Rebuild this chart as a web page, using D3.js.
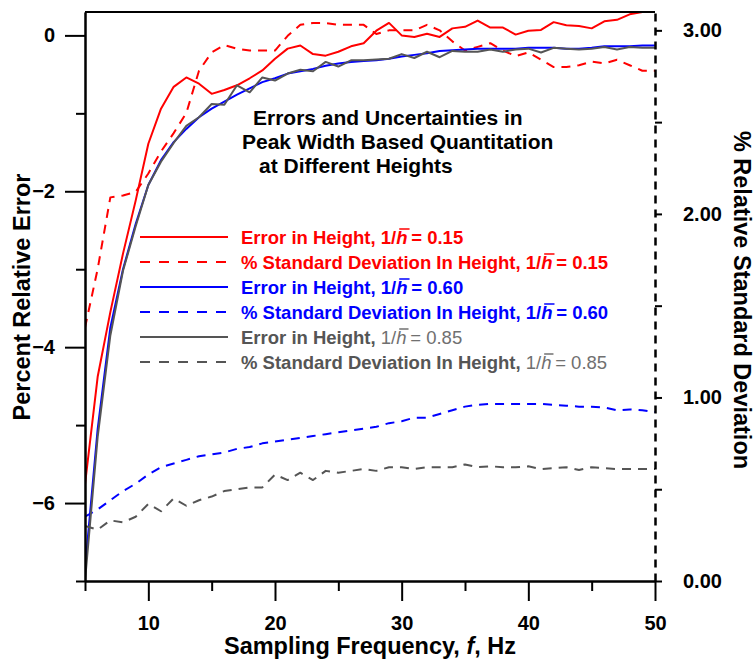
<!DOCTYPE html>
<html>
<head>
<meta charset="utf-8">
<script src="https://cdn.jsdelivr.net/npm/d3@7"></script>
<style>
	body { margin: 0; background: #fff; }
	#chart { width: 755px; height: 660px; }
	text { font-family: "Liberation Sans", Arial, sans-serif; font-weight: bold; }
</style>
</head>
<body>
<div id="chart"></div>
<script>
// sampling frequency, Hz
var freq = [5, 6, 7, 8, 9, 10, 11, 12, 13, 14, 15, 16, 17, 18, 19, 20, 21, 22, 23, 24, 25, 26, 27,
	28, 29, 30, 31, 32, 33, 34, 35, 36, 37, 38, 39, 40, 41, 42, 43, 44, 45, 46, 47, 48, 49, 50];

// percent relative error (left axis)
var errH015 = [-5.76, -4.38, -3.55, -2.80, -2.12, -1.39, -0.94, -0.66, -0.54, -0.62, -0.75, -0.70, -0.64,
	-0.55, -0.45, -0.30, -0.17, -0.13, -0.24, -0.26, -0.21, -0.14, -0.10, 0.06, 0.16, 0.00, -0.02, 0.02,
	-0.02, 0.09, 0.11, 0.19, 0.10, 0.10, 0.01, 0.06, 0.07, 0.17, 0.13, 0.12, 0.09, 0.18, 0.20, 0.27, 0.30, 0.30];
var errH060 = [-6.85, -5.05, -3.75, -3.00, -2.42, -1.92, -1.60, -1.37, -1.20, -1.05, -0.94, -0.85, -0.76,
	-0.68, -0.60, -0.55, -0.49, -0.46, -0.43, -0.39, -0.36, -0.34, -0.33, -0.32, -0.30, -0.27, -0.25, -0.23,
	-0.20, -0.19, -0.18, -0.17, -0.17, -0.17, -0.17, -0.16, -0.16, -0.16, -0.17, -0.17, -0.16, -0.14, -0.14,
	-0.14, -0.13, -0.13];
var errH085 = [-7.00, -5.15, -3.85, -3.02, -2.45, -1.92, -1.62, -1.38, -1.16, -1.05, -0.88, -0.89, -0.64,
	-0.73, -0.54, -0.58, -0.49, -0.44, -0.46, -0.34, -0.40, -0.32, -0.32, -0.31, -0.30, -0.24, -0.29, -0.21,
	-0.28, -0.20, -0.21, -0.21, -0.18, -0.21, -0.18, -0.17, -0.22, -0.16, -0.17, -0.18, -0.17, -0.15, -0.18,
	-0.15, -0.16, -0.16];

// percent relative standard deviation (right axis)
var sdH015 = [1.38, 1.70, 2.09, 2.10, 2.12, 2.22, 2.34, 2.44, 2.55, 2.78, 2.88, 2.92, 2.90, 2.89, 2.89,
	2.89, 2.97, 3.03, 3.04, 3.04, 3.03, 3.03, 3.03, 2.98, 3.00, 3.00, 3.00, 3.03, 3.00, 2.94, 2.89, 2.91,
	2.93, 2.89, 2.86, 2.88, 2.84, 2.80, 2.80, 2.81, 2.83, 2.82, 2.84, 2.81, 2.78, 2.78];
var sdH060 = [0.35, 0.39, 0.44, 0.49, 0.53, 0.58, 0.62, 0.64, 0.66, 0.68, 0.69, 0.70, 0.72, 0.73, 0.75,
	0.76, 0.77, 0.78, 0.79, 0.80, 0.81, 0.82, 0.83, 0.84, 0.86, 0.87, 0.89, 0.89, 0.91, 0.93, 0.95, 0.96,
	0.965, 0.965, 0.965, 0.965, 0.965, 0.96, 0.955, 0.95, 0.95, 0.945, 0.93, 0.935, 0.93, 0.92];
var sdH085 = [0.30, 0.28, 0.33, 0.32, 0.35, 0.42, 0.38, 0.45, 0.41, 0.44, 0.46, 0.49, 0.50, 0.51, 0.51,
	0.58, 0.55, 0.59, 0.55, 0.60, 0.59, 0.60, 0.61, 0.60, 0.62, 0.62, 0.61, 0.62, 0.62, 0.62, 0.635, 0.62,
	0.625, 0.62, 0.62, 0.625, 0.61, 0.615, 0.62, 0.605, 0.62, 0.615, 0.61, 0.61, 0.61, 0.61];

var xMajor = [10, 20, 30, 40, 50];
var xMinor = [5, 15, 25, 35, 45];
var yMajor = [-6, -4, -2, 0];
var yMinor = [-7, -5, -3, -1];
var rTicks = [0, 0.5, 1, 1.5, 2, 2.5, 3];

var titleLines = ["Errors and Uncertainties in", "Peak Width Based Quantitation", "at Different Heights"];

var series = [
	{ label: "Error in Height, ", hval: "0.15", values: errH015, axis: "left", color: "#ff0000", dash: null },
	{ label: "% Standard Deviation In Height, ", hval: "0.15", values: sdH015, axis: "right", color: "#ff0000", dash: true },
	{ label: "Error in Height, ", hval: "0.60", values: errH060, axis: "left", color: "#0000ff", dash: null },
	{ label: "% Standard Deviation In Height, ", hval: "0.60", values: sdH060, axis: "right", color: "#0000ff", dash: true },
	{ label: "Error in Height, ", hval: "0.85", values: errH085, axis: "left", color: "#555555", dash: null, light: true },
	{ label: "% Standard Deviation In Height, ", hval: "0.85", values: sdH085, axis: "right", color: "#555555", dash: true, light: true }
];

var width = 755, height = 660;
var margin = { left: 85, right: 100, top: 12, bottom: 79 };

var svg = d3.select("#chart")
	.append("svg")
	.attr("width", width)
	.attr("height", height);

var x = d3.scaleLinear().domain([5, 50]).range([margin.left, width - margin.right]);
var yL = d3.scaleLinear().domain([-7, 0.3]).range([height - margin.bottom, margin.top]);
var yR = d3.scaleLinear().domain([0, 3.1]).range([height - margin.bottom, margin.top]);

svg.append("clipPath").attr("id", "plotclip")
	.append("rect")
	.attr("x", margin.left).attr("y", margin.top)
	.attr("width", x(50) - x(5)).attr("height", yL(-7) - yL(0.3));

// data lines
var lines = svg.append("g").attr("clip-path", "url(#plotclip)");
series.forEach(function(s) {
	var yScale = s.axis == "left" ? yL : yR;
	var line = d3.line()
		.x(function(d, i) { return x(freq[i]); })
		.y(function(d) { return yScale(d); });
	lines.append("path")
		.datum(s.values)
		.attr("fill", "none")
		.attr("stroke", s.color)
		.attr("stroke-width", 2)
		.attr("stroke-linejoin", "round")
		.attr("stroke-dasharray", s.dash ? "9,7" : null)
		.attr("d", line);
});

// top frame
svg.append("line")
	.attr("x1", x(5)).attr("x2", x(50))
	.attr("y1", yL(0.3)).attr("y2", yL(0.3))
	.attr("stroke", "black").attr("stroke-width", 2);

function styleAxis(g) {
	g.selectAll("path, line").attr("stroke", "black").attr("stroke-width", 2);
	g.selectAll("text").attr("fill", "black").style("font-size", "20px").style("font-weight", "bold");
}

// x axis
svg.append("g")
	.attr("transform", "translate(0," + yL(-7) + ")")
	.call(d3.axisBottom(x).tickValues(xMinor).tickSize(10).tickSizeOuter(0).tickFormat(""))
	.call(styleAxis);
svg.append("g")
	.attr("transform", "translate(0," + yL(-7) + ")")
	.call(d3.axisBottom(x).tickValues(xMajor).tickSize(20).tickSizeOuter(0).tickPadding(15))
	.call(styleAxis);

// left axis
svg.append("g")
	.attr("transform", "translate(" + x(5) + ",0)")
	.call(d3.axisLeft(yL).tickValues(yMinor).tickSize(9).tickSizeOuter(0).tickFormat(""))
	.call(styleAxis);
svg.append("g")
	.attr("transform", "translate(" + x(5) + ",0)")
	.call(d3.axisLeft(yL).tickValues(yMajor).tickSize(20).tickSizeOuter(0).tickPadding(10))
	.call(styleAxis);

// right axis, dashed
var rAxis = svg.append("g")
	.attr("transform", "translate(" + x(50) + ",0)")
	.call(d3.axisRight(yR).tickValues(rTicks).tickSize(7).tickSizeOuter(0).tickPadding(21)
		.tickFormat(function(d) { return d % 1 == 0 ? d3.format(".2f")(d) : ""; }))
	.call(styleAxis);
rAxis.select(".domain")
	.attr("stroke-width", 2.5)
	.attr("stroke-dasharray", "8,6");

// axis titles
svg.append("text")
	.attr("transform", "translate(22,297) rotate(-90)")
	.attr("text-anchor", "middle")
	.attr("dominant-baseline", "central")
	.style("font-size", "23.5px")
	.text("Percent Relative Error");

svg.append("text")
	.attr("transform", "translate(742,300) rotate(90)")
	.attr("text-anchor", "middle")
	.attr("dominant-baseline", "central")
	.style("font-size", "23.5px")
	.text("% Relative Standard Deviation");

var xTitle = svg.append("text")
	.attr("x", (x(5) + x(50)) / 2)
	.attr("y", 646)
	.attr("text-anchor", "middle")
	.attr("dominant-baseline", "central")
	.style("font-size", "23.5px");
xTitle.append("tspan").text("Sampling Frequency, ");
xTitle.append("tspan").style("font-style", "italic").text("f");
xTitle.append("tspan").text(", Hz");

// title block
var titleX = [253, 242, 259];
svg.selectAll(".title")
	.data(titleLines)
	.enter()
	.append("text")
	.attr("class", "title")
	.attr("x", function(d, i) { return titleX[i]; })
	.attr("y", function(d, i) { return 125 + i * 24; })
	.style("font-size", "21px")
	.attr("fill", "black")
	.text(function(d) { return d; });

// legend
var legend = svg.append("g");
series.forEach(function(s, i) {
	var cy = 237 + i * 25;
	legend.append("line")
		.attr("x1", 140).attr("x2", 228)
		.attr("y1", cy).attr("y2", cy)
		.attr("stroke", s.color)
		.attr("stroke-width", 2)
		.attr("stroke-dasharray", s.dash ? "10,9" : null);

	var t = legend.append("text")
		.attr("x", 241)
		.attr("y", cy + 6.5)
		.attr("fill", s.color)
		.style("font-size", "18.5px");
	t.append("tspan").text(s.label);
	var rest = t.append("tspan");
	if (s.light) rest.attr("fill", "#707070").style("font-weight", "normal");
	rest.append("tspan").text("1/");
	rest.append("tspan").style("font-style", "italic").text("h");
	rest.append("tspan").text("\u2009= " + s.hval);

	// bar over the h
	var idx = s.label.length + 2;
	var node = t.node();
	var sx = node.getStartPositionOfChar(idx).x;
	var ex = node.getEndPositionOfChar(idx).x;
	legend.append("line")
		.attr("x1", sx + 3).attr("x2", ex + 2)
		.attr("y1", cy - 8).attr("y2", cy - 8)
		.attr("stroke", s.light ? "#707070" : s.color)
		.attr("stroke-width", 1.5);
});
</script>
</body>
</html>
